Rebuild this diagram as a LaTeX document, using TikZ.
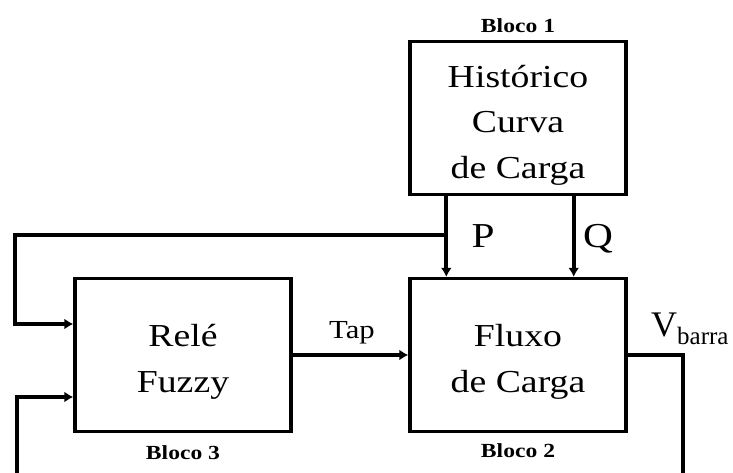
\documentclass[tikz,border=0pt]{standalone}
\usepackage{fontspec}
\setmainfont{Liberation Serif}[FakeStretch=1.18]
\newfontfamily\retofont{Liberation Serif}
\usetikzlibrary{positioning,calc,arrows.meta}
\newcommand{\topo}{\rule{0pt}{36pt}}

\begin{document}
\begin{tikzpicture}[x=1pt,y=1pt,
	bloco/.style={draw, line width=3.4pt, minimum width=216pt, minimum height=153pt, inner sep=0pt, align=center, font=\fontsize{32}{45.5}\selectfont},
	seta/.style={line width=4.2pt, -{Latex[length=9pt,width=11pt]}},
	linha/.style={line width=4.2pt},
	rotulo/.style={anchor=base, font=\fontsize{20}{24}\selectfont\bfseries},
	sinal/.style={anchor=base, font=\fontsize{35}{40}\selectfont}]
		\useasboundingbox (0,0) rectangle (733,473);
		\node[bloco] (hist) at (518,355) {\topo Histórico\\Curva\\de Carga};
		\node[bloco] (fluxo) at (518,118) {\topo Fluxo\\de Carga};
		\node[bloco] (rele) at (183,118) {\topo Relé\\Fuzzy};
		\node[rotulo] (b1) at (518,440) {Bloco 1};
		\node[rotulo] (b2) at (518,15) {Bloco 2};
		\node[rotulo] (b3) at (183,13) {Bloco 3};
		
		\coordinate (p) at ($(hist.south west)+(38,0)$);
		\coordinate (q) at ($(hist.south east)+(-54,0)$);
		\draw[seta] (p) -- (p |- fluxo.north);
		\draw[seta] (q) -- (q |- fluxo.north);
		\node[sinal] (lp) at (483,225) {P};
		\node[sinal] (lq) at (598,225) {Q};
		
		\draw[seta] (rele.east) -- (fluxo.west);
		\node[sinal, font=\fontsize{26}{30}\selectfont] (tap) at (352,134) {Tap};
		
		\coordinate (ret) at (p |- 0,238);
		\draw[seta] (ret) -- (15,238) -- (15,149) -- (rele.west |- 0,149);
		\coordinate (vin) at (17,0);
		\draw[seta] (vin) -- (17,76) -- (rele.west |- 0,76);
		
		\coordinate (vout) at (683,0);
		\draw[linha] (fluxo.east) -- (683,118) -- (vout);
		\node[anchor=base west, font=\retofont\fontsize{36}{40}\selectfont, inner sep=0pt] (vb) at (651,136) {V\raisebox{-8pt}{\fontsize{25}{28}\selectfont barra}};
	\end{tikzpicture}
\end{document}
